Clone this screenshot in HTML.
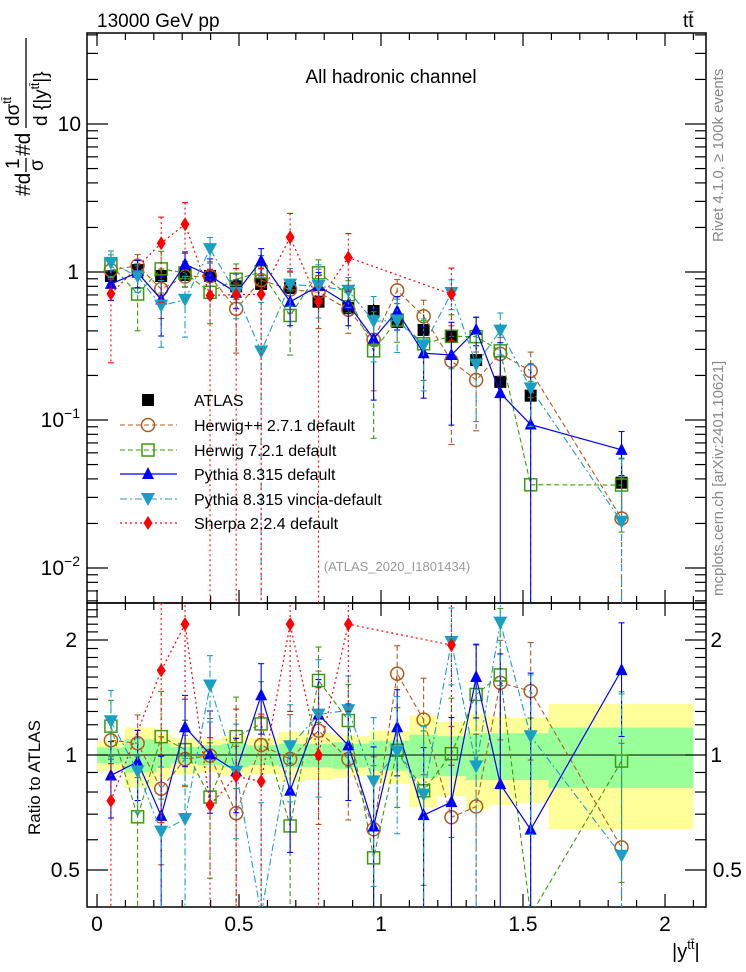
<!DOCTYPE html>
<html><head><meta charset="utf-8"><style>
html,body{margin:0;padding:0;background:#fff;width:746px;height:972px;overflow:hidden;}
svg{display:block;font-family:"Liberation Sans",sans-serif;overflow:hidden;}
</style></head><body>
<svg id="c" width="746" height="972" viewBox="0 0 746 972">
<defs>
<clipPath id="cm"><rect x="87" y="33" width="619" height="570"/></clipPath>
<clipPath id="cr"><rect x="87" y="603" width="619" height="304"/></clipPath>
</defs>
<g id="bands" clip-path="url(#cr)"></g>
<g id="axes"></g>
<g id="mainMarks" clip-path="url(#cm)"></g>
<g id="ratioMarks" clip-path="url(#cr)"></g>
<g id="legend"></g>
<text x="97" y="27" font-size="19">13000 GeV pp</text>
<text x="683" y="27" font-size="19">tt̄</text>
<text x="391" y="83" font-size="19" text-anchor="middle">All hadronic channel</text>
<text x="397" y="571" font-size="13" fill="#999" text-anchor="middle">(ATLAS_2020_I1801434)</text>
<text transform="translate(723,242) rotate(-90)" font-size="15" fill="#888">Rivet 4.1.0, ≥ 100k events</text>
<text transform="translate(723,596) rotate(-90)" font-size="15" fill="#888">mcplots.cern.ch [arXiv:2401.10621]</text>
<g transform="translate(30,196) rotate(-90)">
<text x="0" y="0" font-size="21">#d</text>
<text x="27" y="-11" font-size="19">1</text>
<line x1="24" y1="-4" x2="38" y2="-4" stroke="#000" stroke-width="1.3"/>
<text x="25" y="13" font-size="19">σ</text>
<text x="40" y="0" font-size="21">#d</text>
<text x="70" y="-11" font-size="19">dσ<tspan font-size="12" dy="-8">tt̄</tspan></text>
<line x1="68" y1="-4" x2="158" y2="-4" stroke="#000" stroke-width="1.3"/>
<text x="70" y="17" font-size="19">d {|y<tspan font-size="12" dy="-8">tt̄</tspan><tspan dy="8">|}</tspan></text>
</g>
<text transform="translate(40,835) rotate(-90)" font-size="17">Ratio to ATLAS</text>
<text x="672" y="958" font-size="20">|y<tspan font-size="13" dy="-9">tt̄</tspan><tspan dy="9">|</tspan></text>
</svg>
<script>
// ---- data ----
const binEdges=[0.0,0.097,0.21,0.26,0.355,0.44,0.53,0.64,0.73,0.83,0.90,0.96,1.10,1.20,1.30,1.38,1.46,1.59,2.1];
const binCenters=[0.049,0.143,0.226,0.31,0.398,0.49,0.578,0.68,0.78,0.885,0.974,1.057,1.15,1.248,1.335,1.42,1.527,1.847];
const atlasValues=[0.94,1.03,0.94,0.955,0.94,0.80,0.83,0.78,0.63,0.57,0.545,0.46,0.406,0.365,0.254,0.181,0.146,0.0377];
const atlasTotalErr=[0.09,0.18,0.135,0.11,0.10,0.12,0.11,0.15,0.14,0.13,0.12,0.16,0.27,0.22,0.28,0.26,0.25,0.36];
const atlasStatErr=[0.047,0.10,0.075,0.05,0.06,0.07,0.06,0.07,0.07,0.08,0.07,0.09,0.13,0.12,0.14,0.14,0.14,0.18];
const herwigppRatio=[1.093,1.073,0.816,0.976,0.996,0.704,1.062,0.976,1.158,0.976,0.639,1.632,1.238,0.687,0.733,1.546,1.47,0.573];
const herwigppErr=[0.12,0.2,0.3,0.15,0.25,0.35,0.2,0.3,0.5,0.3,0.35,0.3,0.35,0.5,0.4,0.45,0.5,0.5];
const herwig7Ratio=[1.19,0.689,1.117,1.033,0.776,1.117,1.206,0.652,1.567,1.231,0.538,1.029,0.806,1.008,1.44,1.62,0.25,0.964];
const herwig7Err=[0.2,0.3,0.35,0.2,0.3,0.3,0.35,0.3,0.35,0.3,0.4,0.3,0.35,0.4,0.5,0.8,1.0,0.5];
const pythiaRatio=[0.884,0.96,0.693,1.182,1.004,0.906,1.434,0.806,1.276,1.06,0.65,1.182,0.696,0.753,1.6,0.839,0.638,1.668];
const pythiaErr=[0.2,0.2,0.3,0.25,0.3,0.2,0.3,0.25,0.3,0.3,0.4,0.3,0.35,0.5,0.35,1,1,0.55];
const vinciaRatio=[1.226,0.906,0.63,0.68,1.52,0.904,0.35,1.054,1.276,1.31,0.853,1.022,0.787,1.976,0.934,2.22,1.12,0.545];
const vinciaErr=[0.25,0.2,0.3,0.3,0.3,0.3,0.4,0.3,0.5,0.3,0.4,0.4,0.4,0.45,0.55,0.7,0.5,0.9];
const sherpaRatio=[0.759,null,1.665,2.2,0.74,0.879,0.853,2.2,1.0,2.2,null,null,null,1.94,null,null,null,null];
const sherpaErr=[0.5,null,1.0,0.8,1.0,1.0,1.0,0.9,1.0,0.9,null,null,null,1.0,null,null,null,null];
const xTickLabels=["0","0.5","1","1.5","2"];
const xTickValues=[0,0.5,1,1.5,2];
const legendLabels=["ATLAS","Herwig++ 2.7.1 default","Herwig 7.2.1 default","Pythia 8.315 default","Pythia 8.315 vincia-default","Sherpa 2.2.4 default"];

// ---- scales (clamped to panel ranges) ----
const clamp=(v,a,b)=>Math.max(a,Math.min(b,v));
const X=v=>97+v*284;
const YM=v=>clamp(272-148*Math.log10(v),25,612);
const YR=r=>clamp(755-115*Math.log2(r),595,915);
const NS="http://www.w3.org/2000/svg";
function mk(tag,attrs,parent){const e=document.createElementNS(NS,tag);for(const k in attrs)e.setAttribute(k,attrs[k]);parent.appendChild(e);return e;}
const axes=document.getElementById('axes');
const bands=document.getElementById('bands');
const mm=document.getElementById('mainMarks');
const rm=document.getElementById('ratioMarks');
const lg=document.getElementById('legend');

for(let i=0;i<binCenters.length;i++){
  const x0=X(binEdges[i]),x1=X(binEdges[i+1]);
  let r=mk('rect',{x:x0,y:YR(1+atlasTotalErr[i]),width:x1-x0,height:YR(1-atlasTotalErr[i])-YR(1+atlasTotalErr[i]),fill:'#ffff99'},bands);
  
  
  let g=mk('rect',{x:x0,y:YR(1+atlasStatErr[i]),width:x1-x0,height:YR(1-atlasStatErr[i])-YR(1+atlasStatErr[i]),fill:'#99ff99'},bands);
  
  
}
mk('line',{x1:87,x2:706,y1:YR(1),y2:YR(1),stroke:'#000','stroke-width':1},bands);

let f1=mk('rect',{x:87,y:33,width:619,height:570,fill:'none',stroke:'#000','stroke-width':1.5},axes);


let f2=mk('rect',{x:87,y:603,width:619,height:304,fill:'none',stroke:'#000','stroke-width':1.5},axes);



for(let k=0;k<=21;k++){
  const v=k*0.1,x=X(v),maj=(k%5===0),L=maj?13:7;
  [[33,1],[603,-1],[603,1],[907,-1]].forEach(([y,d])=>mk('line',{x1:x,x2:x,y1:y,y2:y+d*L,stroke:'#000','stroke-width':1.2},axes));
}
xTickValues.forEach((v,i)=>{const t=mk('text',{x:X(v),y:931,'font-size':21,'text-anchor':'middle'},axes);t.textContent=xTickLabels[i];

});

for(let d=-3;d<=1;d++){for(let m=1;m<=9;m++){const v=m*Math.pow(10,d),y=272-148*Math.log10(v);if(y<33||y>603)continue;const L=m===1?21:11;
 mk('line',{x1:87,x2:87+L,y1:y,y2:y,stroke:'#000','stroke-width':1.2},axes);mk('line',{x1:706,x2:706-L,y1:y,y2:y,stroke:'#000','stroke-width':1.2},axes);}}
function ylab(x,y,main,sup,name){const t=mk('text',{x:x,y:y+7,'font-size':21,'text-anchor':'end'},axes);t.textContent=main;
 if(sup){const s=document.createElementNS(NS,'tspan');s.setAttribute('font-size','14');s.setAttribute('dy','-9');s.textContent=sup;t.appendChild(s);}
 
 }
ylab(81,YM(10),'10',null,'y-tick-label');ylab(79,YM(1),'1',null,'y-tick-label');
ylab(80,YM(0.1),'10','−1','y-tick-label');ylab(80,YM(0.01),'10','−2','y-tick-label');
for(let k=4;k<=25;k++){const r=k/10,y=755-115*Math.log2(r);if(y<603||y>907)continue;const maj=(k===5||k===10||k===20),L=maj?21:11;
 mk('line',{x1:87,x2:87+L,y1:y,y2:y,stroke:'#000','stroke-width':1.2},axes);mk('line',{x1:706,x2:706-L,y1:y,y2:y,stroke:'#000','stroke-width':1.2},axes);}
ylab(77,YR(2),'2',null,'ratio-tick-label');ylab(77,YR(1),'1',null,'ratio-tick-label');ylab(80,YR(0.5),'0.5',null,'ratio-tick-label');
ylab(722,YR(2),'2',null,'ratio-tick-label-right');ylab(722,YR(1),'1',null,'ratio-tick-label-right');ylab(742,YR(0.5),'0.5',null,'ratio-tick-label-right');

function marker(type,x,y,col,parent){
  let e;
  if(type==='sq') e=mk('rect',{x:x-6,y:y-6,width:12,height:12,fill:'#000'},parent);
  else if(type==='circ') e=mk('circle',{cx:x,cy:y,r:6.5,fill:'none',stroke:col,'stroke-width':1.5},parent);
  else if(type==='osq') e=mk('rect',{x:x-6,y:y-6,width:12,height:12,fill:'none',stroke:col,'stroke-width':1.5},parent);
  else if(type==='tri') e=mk('polygon',{points:`${x},${y-7} ${x-6},${y+5} ${x+6},${y+5}`,fill:col},parent);
  else if(type==='itri') e=mk('polygon',{points:`${x},${y+7} ${x-7},${y-6} ${x+7},${y-6}`,fill:col},parent);
  else e=mk('polygon',{points:`${x},${y-7} ${x-4.5},${y} ${x},${y+7} ${x+4.5},${y}`,fill:col},parent);
  return e;
}
const series=[
 {name:'herwigpp',ratio:herwigppRatio,err:herwigppErr,col:'#b05a1e',dash:'5,3',m:'circ',w:1.1},
 {name:'herwig7',ratio:herwig7Ratio,err:herwig7Err,col:'#3c9a0a',dash:'5,3',m:'osq',w:1.1},
 {name:'pythia',ratio:pythiaRatio,err:pythiaErr,col:'#0000ff',dash:'',m:'tri',w:1.2},
 {name:'vincia',ratio:vinciaRatio,err:vinciaErr,col:'#1a9fc4',dash:'7,3,2,3',m:'itri',w:1.1},
 {name:'sherpa',ratio:sherpaRatio,err:sherpaErr,col:'#ff0000',dash:'2,3',m:'dia',w:1.2}
];
function drawSeries(s,parent,yf,valf,lo){
  let pts=[];
  s.ratio.forEach((r,i)=>{if(r==null)return;pts.push([X(binCenters[i]),yf(valf(r,i))]);});
  const pl=mk('polyline',{points:pts.map(p=>p.join(',')).join(' '),fill:'none',stroke:s.col,'stroke-width':s.w,'stroke-dasharray':s.dash},parent);
  
  
  s.ratio.forEach((r,i)=>{if(r==null)return;const x=X(binCenters[i]);const v=valf(r,i);
    const de=(parent===rm? s.err[i]: s.err[i]*atlasValues[i]);
    const upv=s.name==='sherpa'? v*(1+0.5*s.err[i]) : v+de;
    const up=yf(upv);
    const lowv=v-de;
    const dn=lowv>0?yf(lowv):lo;
    mk('line',{x1:x,x2:x,y1:up,y2:dn,stroke:s.col,'stroke-width':1.1,'stroke-dasharray':s.dash},parent);
    mk('line',{x1:x-3,x2:x+3,y1:up,y2:up,stroke:s.col,'stroke-width':1.1},parent);
    mk('line',{x1:x-3,x2:x+3,y1:dn,y2:dn,stroke:s.col,'stroke-width':1.1},parent);
    const m=marker(s.m,x,yf(v),s.col,parent);
    
    
  });
}
atlasValues.forEach((v,i)=>{const x=X(binCenters[i]);
  mk('line',{x1:x,x2:x,y1:YM(v*(1+atlasTotalErr[i])),y2:YM(v*(1-atlasTotalErr[i])),stroke:'#000','stroke-width':1.2},mm);
  const m=marker('sq',x,YM(v),'#000',mm);
  
  
});
series.forEach(s=>{
  drawSeries(s,mm,YM,(r,i)=>r*atlasValues[i],612);
  drawSeries(s,rm,YR,(r,i)=>r,915);
});

const lys=[400,425,450,474,499,523];
legendLabels.forEach((lab,k)=>{
  const g=mk('g',{},lg);
  
  
  const y=lys[k];
  if(k===0){marker('sq',148,y,'#000',g);}
  else{const s=series[k-1];
    mk('line',{x1:120,x2:177,y1:y,y2:y,stroke:s.col,'stroke-width':s.w,'stroke-dasharray':s.dash},g);
    marker(s.m,148,y,s.col,g);}
  const t=mk('text',{x:194,y:y+6,'font-size':16},g);t.textContent=lab;
});
</script>
</body></html>
